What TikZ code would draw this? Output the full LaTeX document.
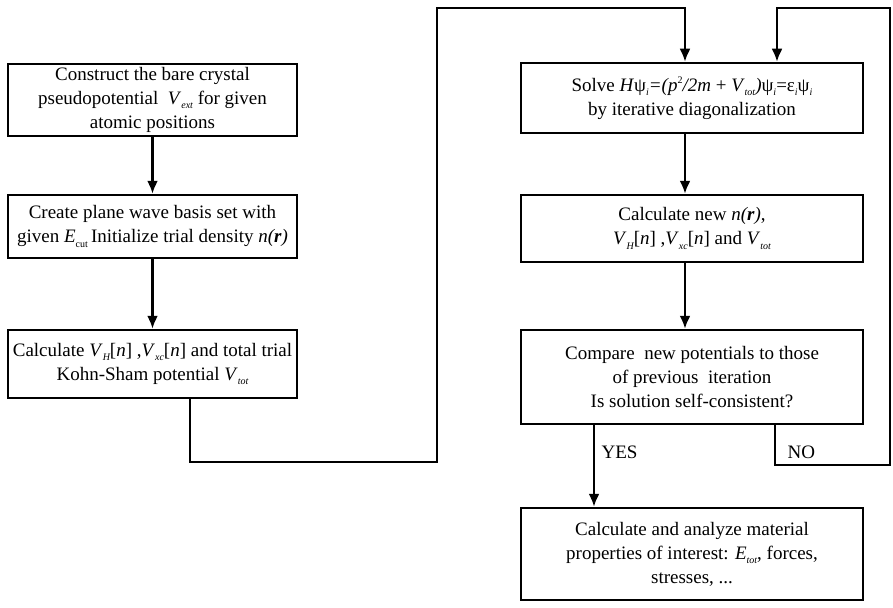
\documentclass[tikz,border=0pt]{standalone}
\usepackage{fontspec}
\setmainfont{Liberation Serif}
\usetikzlibrary{arrows.meta}
% small lowered and raised indices, as in the scanned chart
\newcommand{\lo}[1]{\raisebox{-0.5ex}{\fontsize{10}{10}\selectfont\itshape #1}}
\newcommand{\lou}[1]{\raisebox{-0.5ex}{\fontsize{10}{10}\selectfont #1}}
\newcommand{\hi}[1]{\raisebox{0.9ex}{\fontsize{10}{10}\selectfont #1}}

\begin{document}
\begin{tikzpicture}[x=1pt, y=1pt, >={Latex[length=13pt, width=11pt]},
    box/.style={draw, line width=2.5pt, align=center, inner sep=1pt,
        font=\fontsize{19}{24}\selectfont},
    leftbox/.style={box, minimum width=289pt},
    rightbox/.style={box, minimum width=342pt},
    flow/.style={->, line width=2.2pt},
    lbl/.style={font=\fontsize{19}{24}\selectfont, anchor=west}]
    % 1. Page frame
    \useasboundingbox (0,0) rectangle (893,-607);

    % 2. Left column
    \node[leftbox, minimum height=72pt] (crystal) at (152.5,-100)
        {Construct the bare crystal\\ pseudopotential \ \textit{V}\lo{ext} for given\\ atomic positions};
    \node[leftbox, minimum height=63pt] (basis) at (152.5,-226.5)
        {Create plane wave basis set with\\ given \textit{E}\lou{cut}\,Initialize trial density \textit{n(\textbf{r})}};
    \node[leftbox, minimum height=68pt] (trial) at (152.5,-364)
        {Calculate \textit{V}\lo{H}[\textit{n}] ,\textit{V}\lo{xc}[\textit{n}] and total trial\\ Kohn-Sham potential \textit{V}\lo{tot}};

    % 3. Right column
    \node[rightbox, minimum height=70pt] (solve) at (692,-98)
        {Solve \textit{H}ψ\lo{i}\textit{=(p}\hi{2}\textit{/2m} + \textit{V}\lo{tot}\textit{)}ψ\lo{i}=ε\lo{i}ψ\lo{i}\\ by iterative diagonalization};
    \node[rightbox, minimum height=67pt] (density) at (692,-228.5)
        {Calculate new \textit{n(\textbf{r})},\\ \textit{V}\lo{H}[\textit{n}] ,\textit{V}\lo{xc}[\textit{n}] and \textit{V}\lo{tot}};
    \node[rightbox, minimum height=94pt] (compare) at (692,-377)
        {Compare \ new potentials to those\\ of previous \ iteration\\ Is solution self-consistent?};
    \node[rightbox, minimum height=92pt] (props) at (692,-554)
        {Calculate and analyze material\\ properties of interest: \textit{E}\lo{tot}, forces,\\ stresses, ...};

    % 4. Corner points of the long connectors
    \coordinate (rx) at (685,0);
    \coordinate (bl) at (190,-462);
    \coordinate (br) at (437,-462);
    \coordinate (tl) at (437,-8);
    \coordinate (tm) at (685,-8);
    \coordinate (yes) at (594,0);
    \coordinate (nl) at (775,-465);
    \coordinate (nr) at (890,-465);
    \coordinate (tr) at (890,-8);
    \coordinate (tn) at (777,-8);

    % 5. Straight arrows
    \draw[flow] (crystal) -- (basis);
    \draw[flow] (basis) -- (trial);
    \draw[flow] (solve.south -| rx) -- (density.north -| rx);
    \draw[flow] (density.south -| rx) -- (compare.north -| rx);
    \draw[flow] (compare.south -| yes) -- (props.north -| yes);

    % 6. Loops
    \draw[flow] (trial.south -| bl) -- (bl) -- (br) -- (tl) -- (tm) -- (solve.north -| tm);
    \draw[flow] (compare.south -| nl) -- (nl) -- (nr) -- (tr) -- (tn) -- (solve.north -| tn);

    % 7. Answers
    \node[lbl] (yeslbl) at (598,-452) {YES};
    \node[lbl] (nolbl) at (784,-452) {NO};
\end{tikzpicture}
\end{document}
